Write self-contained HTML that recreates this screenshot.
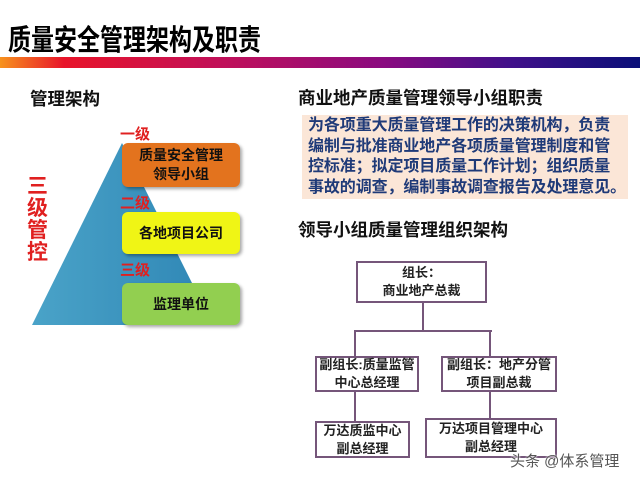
<!DOCTYPE html>
<html><head><meta charset="utf-8"><style>
body{margin:0;width:640px;height:480px;background:#fff;position:relative;overflow:hidden;font-family:"Liberation Sans","Noto Sans CJK SC",sans-serif;}
.a{position:absolute;}
.b{font-weight:bold;}
.box{position:absolute;border:2px solid #75567a;box-sizing:border-box;background:#fff;display:flex;align-items:center;justify-content:center;text-align:center;font-weight:bold;font-size:13px;line-height:18px;color:#222;}
.ln{position:absolute;background:#75567a;}
.lv{position:absolute;color:#e02020;font-weight:bold;font-size:15px;}
.tier{position:absolute;left:122px;width:118px;border-radius:6px;display:flex;align-items:center;justify-content:center;text-align:center;font-weight:bold;font-size:14px;line-height:19px;color:#111;box-shadow:2px 2px 3px rgba(0,0,0,.35);}
</style></head><body>
<div class="a b" style="left:8px;top:16px;font-size:23px;color:#000;transform:scaleY(1.25);transform-origin:0 0">质量安全管理架构及职责</div>
<div class="a" style="left:0;top:57px;width:640px;height:11px;background:linear-gradient(90deg,#f7931e 0%,#e8142a 10%,#c0105a 35%,#8a0a80 60%,#40108a 80%,#0a0f78 100%)"></div>

<div class="a b" style="left:30px;top:86px;font-size:17.5px;color:#111">管理架构</div>
<svg class="a" style="left:0;top:0" width="260" height="340">
<defs><linearGradient id="g" x1="0" y1="0" x2="1" y2="0"><stop offset="0" stop-color="#4aa3c8"/><stop offset="1" stop-color="#2f86b5"/></linearGradient></defs>
<polygon points="122,143 32,325 213,325" fill="url(#g)"/>
</svg>
<div class="tier" style="top:143px;height:44px;background:#e3731e">质量安全管理<br>领导小组</div>
<div class="tier" style="top:212px;height:42px;background:#f0f515">各地项目公司</div>
<div class="tier" style="top:283px;height:42px;background:#92cf50">监理单位</div>
<div class="lv" style="left:120px;top:123px">一级</div>
<div class="lv" style="left:120px;top:192px">二级</div>
<div class="lv" style="left:120px;top:259px">三级</div>
<div class="a b" style="left:27px;top:176px;width:24px;font-size:21px;line-height:22px;color:#e02020">三级管控</div>

<div class="a b" style="left:298px;top:85px;font-size:17.5px;color:#111">商业地产质量管理领导小组职责</div>
<div class="a b" style="left:302px;top:115px;width:326px;height:84px;background:#fbe6d7;box-sizing:border-box;padding:1px 0 0 6px;font-size:16px;line-height:20.5px;color:#1f3a78;letter-spacing:-0.1px">为各项重大质量管理工作的决策机构，负责<br>编制与批准商业地产各项质量管理制度和管<br>控标准；拟定项目质量工作计划；组织质量<br>事故的调查，编制事故调查报告及处理意见。</div>
<div class="a b" style="left:298px;top:217px;font-size:17.5px;color:#111">领导小组质量管理组织架构</div>

<div class="ln" style="left:422px;top:302px;width:2px;height:29px"></div>
<div class="ln" style="left:354px;top:330px;width:138px;height:2px"></div>
<div class="ln" style="left:354px;top:330px;width:2px;height:91px"></div>
<div class="ln" style="left:489px;top:330px;width:2px;height:88px"></div>
<div class="box" style="left:356px;top:261px;width:131px;height:42px">组长：<br>商业地产总裁</div>
<div class="box" style="left:315px;top:356px;width:104px;height:36px">副组长:质量监管<br>中心总经理</div>
<div class="box" style="left:441px;top:356px;width:116px;height:36px">副组长：地产分管<br>项目副总裁</div>
<div class="box" style="left:315px;top:421px;width:95px;height:37px">万达质监中心<br>副总经理</div>
<div class="box" style="left:425px;top:418px;width:132px;height:40px">万达项目管理中心<br>副总经理</div>
<div class="a" style="left:510px;top:450px;font-size:15px;color:#555;text-shadow:0 0 2px #fff,0 0 2px #fff">头条 @体系管理</div>
</body></html>
